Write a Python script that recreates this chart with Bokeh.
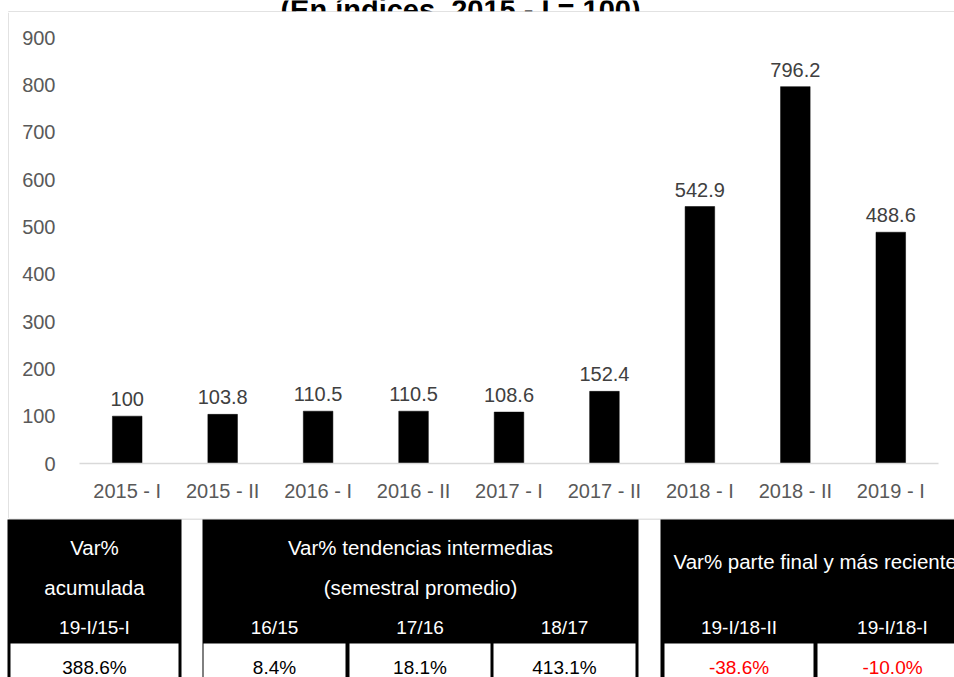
from bokeh.plotting import figure
from bokeh.models import (Range1d, FactorRange, ColumnDataSource, LabelSet, FixedTicker)
from bokeh.layouts import column, row
from bokeh.embed import file_html
from bokeh.resources import INLINE
from bokeh.core.properties import value

# ---------------- data ----------------
title_text = "(En índices, 2015 - I = 100)"
periods = ["2015 - I", "2015 - II", "2016 - I", "2016 - II", "2017 - I",
           "2017 - II", "2018 - I", "2018 - II", "2019 - I"]
index_values = [100, 103.8, 110.5, 110.5, 108.6, 152.4, 542.9, 796.2, 488.6]
y_tick_values = [0, 100, 200, 300, 400, 500, 600, 700, 800, 900]

group_title_lines = [["Var%", "acumulada"],
                     ["Var% tendencias intermedias", "(semestral promedio)"],
                     ["Var% parte final y más reciente"]]
sub_headers = ["19-I/15-I", "16/15", "17/16", "18/17", "19-I/18-II", "19-I/18-I"]
variation_pct = [388.6, 8.4, 18.1, 413.1, -38.6, -10.0]

# ---------------- style ----------------
FONT = "Liberation Sans"
W = 954
TOP_H = 12          # strip holding the clipped title and the top edge of the box
STRIP_W = 9         # strip holding the left edge of the box
CH = 506            # chart figure height (y 12..518)
TH = 159            # table figure height (y 518..677)
AXIS_GRAY = "#595959"
LABEL_GRAY = "#404040"
BORDER_GRAY = "#d9d9d9"


def bare(width, height, xr, yr):
    f = figure(width=width, height=height, x_range=xr, y_range=yr,
               output_backend="svg", toolbar_location=None,
               x_axis_type=None, y_axis_type=None, min_border=0)
    f.frame_align = False
    f.outline_line_color = None
    f.background_fill_color = "white"
    f.border_fill_color = "white"
    return f


# ---------------- top strip: clipped title + top border ----------------
top = bare(W, TOP_H, Range1d(0, W), Range1d(TOP_H, 0))
top.text(x=[460], y=[9], text=[title_text], text_align="center",
         text_baseline="alphabetic", text_font_size="29px", text_font_style="bold",
         text_color="black", text_font=value(FONT))
top.segment(x0=[8], y0=[11.5], x1=[W], y1=[11.5], line_color=BORDER_GRAY, line_width=1.5)
top.segment(x0=[8.5], y0=[11], x1=[8.5], y1=[TOP_H], line_color=BORDER_GRAY, line_width=1.5)

# ---------------- left strip: left border ----------------
strip = bare(STRIP_W, CH, Range1d(0, STRIP_W), Range1d(CH, 0))
strip.segment(x0=[8.5], y0=[0], x1=[8.5], y1=[CH], line_color=BORDER_GRAY, line_width=1.5)

# ---------------- chart ----------------
p = figure(width=W - STRIP_W, height=CH, x_range=FactorRange(factors=periods),
           y_range=Range1d(0, 900), output_backend="svg", toolbar_location=None,
           min_border_left=79 - STRIP_W, min_border_right=16,
           min_border_top=37 - TOP_H, min_border_bottom=55)
p.frame_align = False
p.outline_line_color = None
p.xgrid.visible = False
p.ygrid.visible = False
p.background_fill_color = "white"
p.border_fill_color = "white"

src = ColumnDataSource(dict(x=periods, top=index_values,
                            label=[f"{v:g}" for v in index_values]))
p.vbar(x="x", top="top", width=0.31, source=src, fill_color="black",
       line_color="black", line_width=0.5)

p.add_layout(LabelSet(x="x", y="top", text="label", source=src,
                      text_align="center", text_baseline="bottom", y_offset=10,
                      text_font_size="20px", text_color=LABEL_GRAY,
                      text_font=value(FONT)))

p.yaxis.ticker = FixedTicker(ticks=y_tick_values)
p.yaxis.axis_line_color = None
p.yaxis.major_tick_line_color = None
p.yaxis.minor_tick_line_color = None
p.yaxis.major_label_text_font_size = "20px"
p.yaxis.major_label_text_color = AXIS_GRAY
p.yaxis.major_label_text_font = FONT
p.yaxis.major_label_standoff = 18

p.xaxis.axis_line_color = BORDER_GRAY
p.xaxis.axis_line_width = 1.5
p.xaxis.major_tick_line_color = None
p.xaxis.minor_tick_line_color = None
p.xaxis.major_label_text_font_size = "20px"
p.xaxis.major_label_text_color = AXIS_GRAY
p.xaxis.major_label_text_font = FONT
p.xaxis.major_label_standoff = 10

# ---------------- table ----------------
y0 = TOP_H + CH
t = bare(W, TH, Range1d(0, W), Range1d(y0 + TH, y0))

HEADER_TOP = 519
ROW_Y = [547, 587, 627]
HEADER_BOTTOM = 643
VALUE_Y = 667
BOTTOM = 720

group_left = [7, 202, 660]
group_right = [181, 638, 1000]
cell_left = [10, 203, 349, 493, 664, 817]
cell_right = [178, 345, 490, 635, 813, 967]

# bottom edge of the chart box, visible between the groups
t.segment(x0=[8], y0=[518.6], x1=[W], y1=[518.6], line_color=BORDER_GRAY, line_width=1.5)

t.quad(left=group_left, right=group_right, top=[HEADER_TOP] * 3,
       bottom=[BOTTOM] * 3, fill_color="black", line_color=None)
t.quad(left=cell_left, right=cell_right, top=[HEADER_BOTTOM] * 6,
       bottom=[BOTTOM] * 6, fill_color="white", line_color=None)

gx, gy, gt = [], [], []
group_centers = [(group_left[0] + group_right[0]) / 2, (group_left[1] + group_right[1]) / 2]
for gi in range(2):
    for li, line in enumerate(group_title_lines[gi]):
        gx.append(group_centers[gi])
        gy.append(ROW_Y[li])
        gt.append(line)
t.text(x=gx, y=gy, text=gt, text_align="center", text_baseline="middle",
       text_color="white", text_font_size="20.5px", text_font=value(FONT))
t.text(x=[673], y=[(ROW_Y[0] + ROW_Y[1]) / 2 - 6], text=group_title_lines[2],
       text_align="left", text_baseline="middle",
       text_color="white", text_font_size="20.5px", text_font=value(FONT))

cell_centers = [(a + b) / 2 for a, b in zip(cell_left, cell_right)]
t.text(x=cell_centers, y=[ROW_Y[2]] * 6, text=sub_headers, text_align="center",
       text_baseline="middle", text_color="white", text_font_size="19px",
       text_font=value(FONT))

vsrc = ColumnDataSource(dict(x=cell_centers, y=[VALUE_Y] * 6,
                             text=[f"{v:.1f}%" for v in variation_pct],
                             color=["#ff0000" if v < 0 else "black" for v in variation_pct]))
t.text(x="x", y="y", text="text", text_color="color", source=vsrc,
       text_align="center", text_baseline="middle", text_font_size="19px",
       text_font=value(FONT))

layout = column(top, row(strip, p, spacing=0), t, spacing=0)
open("out.html", "w").write(file_html(layout, INLINE))
